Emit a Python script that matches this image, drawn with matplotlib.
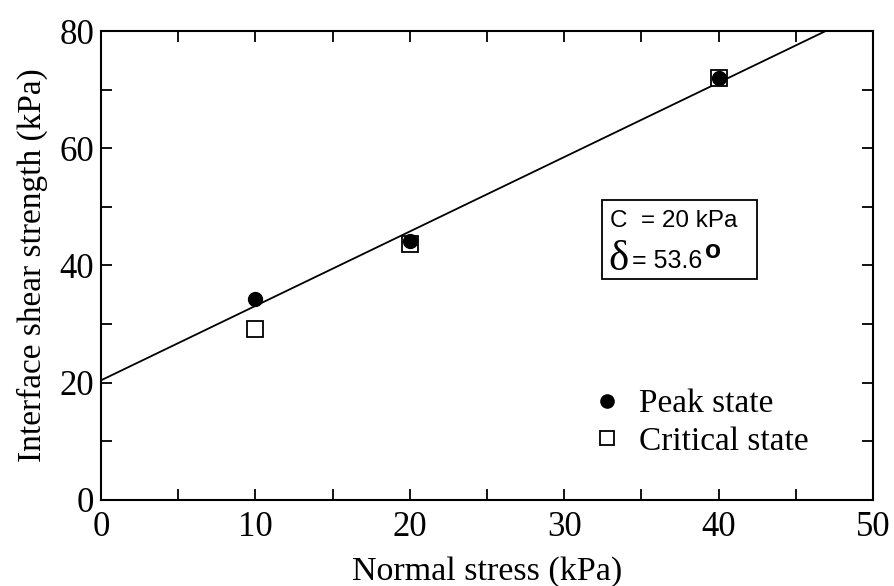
import numpy as np
import matplotlib.pyplot as plt
from matplotlib.patches import Rectangle

# data
normal_stress = [10, 20, 40]
peak_strength = [34.3, 44.2, 72.0]
critical_strength = [29.2, 43.6, 72.0]

# fitted failure envelope (as drawn)
fit_intercept = 20.4
fit_slope = 1.27
fit_x = np.array([0, 50])

plt.rcParams['font.family'] = ['Liberation Serif', 'DejaVu Serif']

fig = plt.figure(figsize=(8.94, 5.86), dpi=100)
ax = fig.add_axes([0.113, 0.147, 0.8635, 0.800])

ax.plot(fit_x, fit_intercept + fit_slope * fit_x, 'k-', lw=1.3)
ax.plot(normal_stress, critical_strength, 's', ms=11, mfc='white', mec='black',
        mew=1.3, label='Critical state')
ax.plot(normal_stress, peak_strength, 'o', ms=10, color='black', label='Peak state')

ax.set_xlim(0, 50)
ax.set_ylim(0, 80)
ax.set_xticks([0, 10, 20, 30, 40, 50])
ax.set_xticks([5, 15, 25, 35, 45], minor=True)
ax.set_yticks([0, 20, 40, 60, 80])
ax.set_yticks([10, 30, 50, 70], minor=True)
ax.tick_params(which='both', direction='in', top=True, right=True,
               length=8, width=1.3, labelsize=25)
ax.tick_params(axis='x', pad=8)
ax.tick_params(axis='y', pad=5)
for s in ax.spines.values():
    s.set_linewidth(1.5)

ax.set_xlabel('Normal stress (kPa)', fontsize=24.5, labelpad=9)
ax.set_ylabel('Interface shear strength (kPa)', fontsize=24, labelpad=8)

# parameter box
ax.add_patch(Rectangle((0.649, 0.471), 0.201, 0.169, transform=ax.transAxes,
                       fill=False, lw=1.3, ec='black'))
ax.text(0.659, 0.595, 'C  = 20 kPa', transform=ax.transAxes, fontsize=17.5,
        family='Liberation Sans', va='center')
ax.text(0.657, 0.513, '\u03b4', transform=ax.transAxes, fontsize=31, va='center')
ax.text(0.688, 0.510, '= 53.6', transform=ax.transAxes, fontsize=18,
        family='Liberation Sans', va='center')
ax.text(0.783, 0.530, 'o', transform=ax.transAxes, fontsize=19,
        family='Liberation Sans', fontweight='bold', va='center')

handles, labels = ax.get_legend_handles_labels()
ax.legend(handles[::-1], labels[::-1], loc='upper left', bbox_to_anchor=(0.621, 0.265),
          frameon=False, fontsize=24, handlelength=0.8, handletextpad=0.55,
          labelspacing=0.2, markerscale=0.95, borderaxespad=0)

fig.savefig('out.png', dpi=100)
